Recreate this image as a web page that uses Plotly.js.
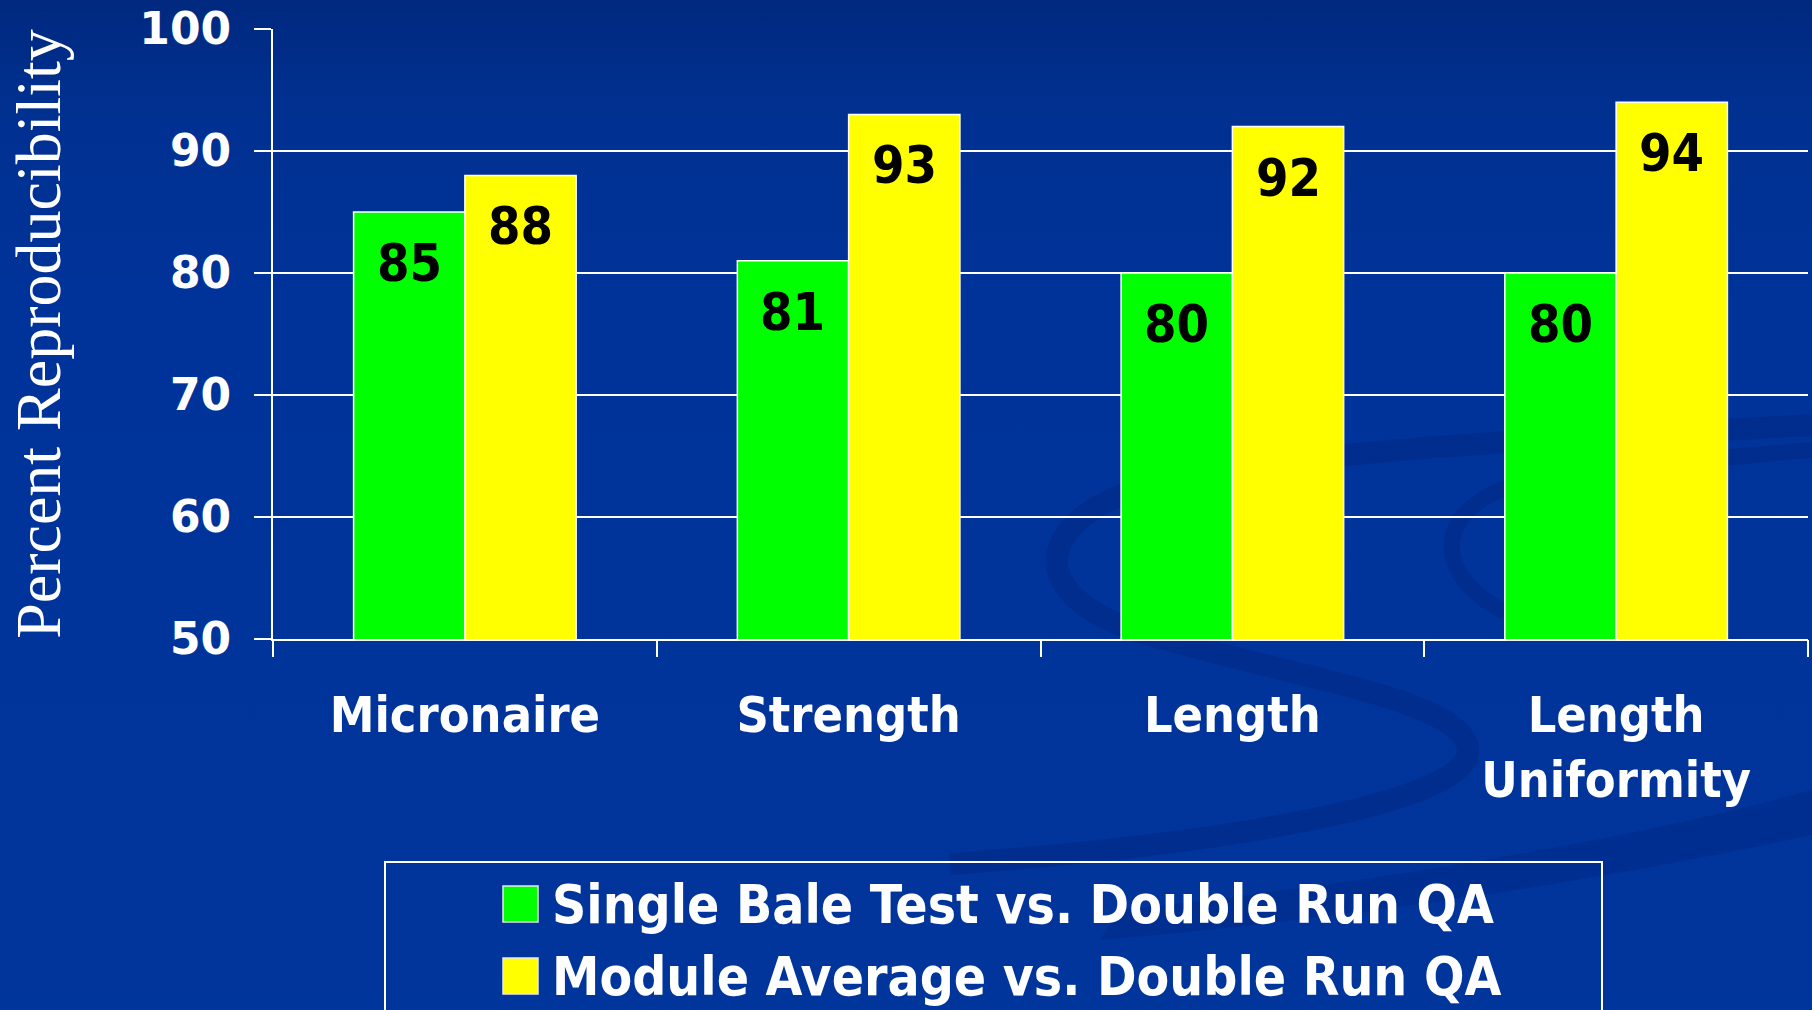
<!DOCTYPE html>
<html>
<head>
<meta charset="utf-8">
<script src="https://cdn.plot.ly/plotly-3.0.1.min.js"></script>
<style>
  html, body { margin: 0; padding: 0; background: #003399; }
  #chart { width: 1812px; height: 1010px; }
</style>
</head>
<body>
<div id="chart"></div>
<script>
// ---- data ----
const categories = ['Micronaire', 'Strength', 'Length', 'Length<br>Uniformity'];
const singleBale = [85, 81, 80, 80];
const moduleAvg = [88, 93, 92, 94];
const seriesNames = ['Single Bale Test vs. Double Run QA', 'Module Average vs. Double Run QA'];
const seriesColors = ['#00ff00', '#ffff00'];
const yTickVals = [50, 60, 70, 80, 90, 100];
const yTitle = 'Percent Reproducibility';

// ---- layout geometry ----
const W = 1812, H = 1010;
const M = { l: 273, r: 4, t: 29, b: 371 };
const PW = W - M.l - M.r, PH = H - M.t - M.b;
const px2x = px => (px - M.l) / PW;
const py2y = py => (H - M.b - py) / PH;
const BARGAP = 0.42;
const barOffset = (1 - BARGAP) / 4;

const boldFont = 'DejaVu Sans, Verdana, sans-serif';
const condFont = 'DejaVu Sans Condensed, DejaVu Sans, sans-serif';

const catIdx = categories.map((c, i) => i);
const traces = [
  { type: 'bar', name: seriesNames[0], x: catIdx, y: singleBale,
    marker: { color: seriesColors[0], line: { color: '#ffffff', width: 1.5 } } },
  { type: 'bar', name: seriesNames[1], x: catIdx, y: moduleAvg,
    marker: { color: seriesColors[1], line: { color: '#ffffff', width: 1.5 } } },
  // helper trace so the boundary ticks on xaxis2 are drawn
  { type: 'scatter', x: [], y: [], xaxis: 'x2', yaxis: 'y', showlegend: false, hoverinfo: 'skip' }
];

const annotations = [];
[singleBale, moduleAvg].forEach((vals, s) => {
  vals.forEach((v, i) => {
    annotations.push({
      x: i + (s === 0 ? -barOffset : barOffset), y: v, xref: 'x', yref: 'y',
      text: String(v), showarrow: false, yanchor: 'top', xanchor: 'center', yshift: -19,
      font: { family: condFont, size: 52, color: '#000000', weight: 'bold' }
    });
  });
});

// custom legend (box + swatches + labels)
const legTop = 862, legBottom = 1020, legLeft = 385, legRight = 1602;
const shapes = [
  { type: 'rect', xref: 'paper', yref: 'paper', x0: px2x(legLeft), x1: px2x(legRight),
    y0: py2y(legBottom), y1: py2y(legTop), line: { color: '#ffffff', width: 2 }, fillcolor: 'rgba(0,0,0,0)', layer: 'above' }
];
const legRows = [904, 976];
legRows.forEach((cy, k) => {
  shapes.push({ type: 'rect', xref: 'paper', yref: 'paper',
    x0: px2x(503), x1: px2x(538), y0: py2y(cy + 18), y1: py2y(cy - 18),
    fillcolor: seriesColors[k], line: { color: '#e8e8e8', width: 1.5 }, layer: 'above' });
  annotations.push({ xref: 'paper', yref: 'paper', x: px2x(550), y: py2y(cy),
    xanchor: 'left', yanchor: 'middle', showarrow: false, text: seriesNames[k],
    font: { family: condFont, size: 53, color: '#ffffff', weight: 'bold' } });
});

// background gradient + faint swirl decoration
const sw = 'rgba(0,22,100,0.22)';
const svg = `<svg xmlns='http://www.w3.org/2000/svg' width='${W}' height='${H}' viewBox='0 0 ${W} ${H}'>
<defs><linearGradient id='g' x1='0' y1='0' x2='0' y2='1'>
<stop offset='0' stop-color='#00297f'/><stop offset='0.1' stop-color='#003090'/><stop offset='0.28' stop-color='#003399'/><stop offset='1' stop-color='#00359b'/>
</linearGradient></defs>
<rect width='${W}' height='${H}' fill='url(#g)'/>
<path d='M1812 425 C1550 440 1230 450 1110 500 C1030 540 1040 600 1140 632 C1300 680 1470 700 1468 752 C1465 800 1250 842 950 864' fill='none' stroke='${sw}' stroke-width='22'/>
<path d='M1812 450 C1700 460 1560 470 1500 490 C1430 520 1440 580 1505 612' fill='none' stroke='${sw}' stroke-width='16'/>
<path d='M1812 790 C1650 835 1400 880 1120 910 L1100 940 C1400 915 1650 870 1812 835 Z' fill='rgba(0,22,100,0.18)'/>
</svg>`;

const layout = {
  width: W, height: H,
  margin: { l: M.l, r: M.r, t: M.t, b: M.b, pad: 0 },
  paper_bgcolor: '#003399',
  plot_bgcolor: 'rgba(0,0,0,0)',
  showlegend: false,
  barmode: 'group',
  bargap: BARGAP,
  bargroupgap: 0,
  xaxis: {
    tickmode: 'array', tickvals: catIdx, ticktext: categories,
    range: [-0.5, 3.5], showgrid: false, zeroline: false,
    showline: true, linecolor: '#ffffff', linewidth: 2,
    ticks: '',
    tickfont: { family: condFont, size: 50, color: '#ffffff', weight: 'bold' },
    ticklabelstandoff: 31
  },
  xaxis2: {
    overlaying: 'x', range: [-0.5, 3.5], tickmode: 'array', tickvals: [-0.5, 0.5, 1.5, 2.5, 3.5],
    ticks: 'outside', ticklen: 17, tickwidth: 2, tickcolor: '#ffffff', showticklabels: false,
    showgrid: false, zeroline: false, side: 'bottom', anchor: 'y'
  },
  yaxis: {
    range: [50, 100], tickmode: 'array', tickvals: yTickVals,
    showgrid: true, gridcolor: '#ffffff', gridwidth: 2, zeroline: false,
    showline: true, linecolor: '#ffffff', linewidth: 2,
    ticks: 'outside', ticklen: 17, tickwidth: 2, tickcolor: '#ffffff',
    tickfont: { family: boldFont, size: 44, color: '#ffffff', weight: 'bold' },
    ticklabelstandoff: 14,
    title: { text: yTitle, font: { family: 'Liberation Serif, Times New Roman, serif', size: 64, color: '#ffffff' }, standoff: 58 }
  },
  annotations: annotations,
  shapes: shapes,
  images: [{
    source: 'data:image/svg+xml;charset=utf-8,' + encodeURIComponent(svg),
    xref: 'paper', yref: 'paper', x: px2x(0), y: py2y(0), sizex: W / PW, sizey: H / PH,
    xanchor: 'left', yanchor: 'top', sizing: 'stretch', layer: 'below'
  }]
};

Plotly.newPlot('chart', traces, layout, { displayModeBar: false, staticPlot: true });
</script>
</body>
</html>
